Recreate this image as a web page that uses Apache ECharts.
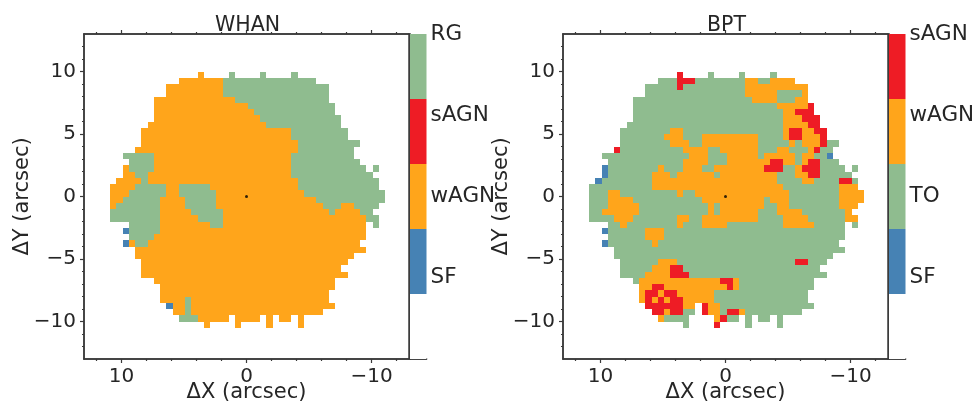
<!DOCTYPE html>
<html><head><meta charset="utf-8">
<script src="https://cdn.jsdelivr.net/npm/echarts@6/dist/echarts.min.js"></script>
<style>html,body{margin:0;padding:0;background:#fff}#c{width:974px;height:406px}</style>
</head><body><div id="c"></div>
<script>
// Spaxel maps: one string per row, top row = -20. Each token = class + column or column range.
var firstRow = -20;
var whanRows = [
"O-8 G-3 G2 G7",
"O-11:-5 G-4:10",
"O-13:-5 G-4:12",
"O-13:-5 G-4:12",
"O-15:-3 G-2:12",
"O-15:-1 G0:13",
"O-15:0 G1:13",
"O-15:1 G2:14",
"O-16:2 G3:14",
"O-17:6 G7:15",
"O-17:6 G7:15",
"O-17:7 G8:17",
"O-18:7 G8:16",
"G-20:-16 O-15:6 G7:16",
"G-19:-16 O-15:6 G7:17",
"O-20 G-19:-16 O-15:6 G7:18 G20",
"O-20:-19 G-18:-17 O-16:6 G7:19",
"O-21:-18 G-17 O-16:7 G8:20",
"O-22:-19 G-18:-14 O-13:-12 G-11:-7 O-6:7 G8:20",
"O-22:-20 G-19:-14 O-13:-12 G-11:-6 O-5:8 G9:21",
"O-22:-21 G-20:-15 O-14:-11 G-10:-6 O-5:10 G11:21",
"O-22 G-21:-15 O-14:-11 G-10:-6 O-5:11 G12:14 O15:16 G17:20",
"G-22:-15 O-14:-10 G-9:-5 O-4:12 G13 O14:17 G18:19",
"G-22:-15 O-14:-9 G-8:-5 O-4:18 G19:20",
"G-19:-15 O-14:-7 G-6:-5 O-4:18 G20",
"B-20 G-19:-15 O-14:18",
"G-19:-16 O-15:18",
"B-20 O-19 G-18:-17 O-16:17",
"O-18:18",
"O-18:16",
"O-17:15",
"O-17:14",
"O-17:15",
"O-15:13",
"O-14:13",
"O-14:12",
"O-14:-11 G-10 O-9:12",
"B-13 O-12:-11 G-10 O-9:13",
"O-12:-11 G-10 O-9:11",
"G-11:-9 O-8:-4 O-2:1 O3 O5:6 O8",
"O-7 O-2 O3 O8"
];
// BPT map: same footprint read as green (TO), with these departures ('.' = empty)
var bptRows = [
"R-8",
"R-8:-6 O3:4 O7:10",
"R-8 O3:12",
"O3:7 O12",
"O4:7 O11:12",
"O8:12 R13",
"O9:10 R11:13",
"O9:11 R12:14",
"O9:12 R13:14",
"O-9:-8 O9 R10:11 O12:13 R14:15",
"O-10:-8 O-4:4 O9 R10:11 O12:14 R15",
"O-9:-7 O-4:4 O10 O12:14 R15",
"R-18 O-7:-4 O-1:4 O8:9 O13 R14",
"O-6:-4 O0:4 O6:10 O12:13 B16:17",
"O-7:-4 O0:6 R7:8 O9:10 O12 R13:14",
"B-20 O-11 O-7:-5 O-2:5 R6:8 O11 R12:14",
"B-20 O-12:-10 O-8:-3 O-1:7 O11:12 R13:14",
"B-21 O-12:7 O12:13 R18:19",
"O-12:8 O18:20",
"O-19:-18 O-8 O-5:9 O18:21",
"O-19:-16 O-4:5 O7:9 O18:21",
"O-19:-15 O-3 O-1:5 O8:9 O18:20",
"O-20:-15 O-3 O-1:4 O8:11 O19",
"O-18:-16 O-8:-7 O-4:4 O9:12 O19:20",
"B-20 O-17 O-8 O-4:-1 O9:13",
"B-20 O-13:-11",
"O-13:-11",
"B-20 O-12",
"",
"",
"O-11:-9 R11:12",
"O-12:-10 R-9:-8",
"O-13:-10 R-9:-7",
"O-14:-2 R-1:0 O1",
"O-14:-13 R-12:-11 O-10:-1 R0 O1",
"O-14 R-13:-12 O-11 R-10:-9 O-8:-3",
"O-14 R-13 O-12 R-11 O-10 R-9:-8 O-7:-3",
"R-13:-8 O-7:-6 .-5 R-4 O-3:-2",
"R-12:-11 O-10 R-9:-8 .-5 R-4 O-3:-2 R0:1 O2",
"O-11 .-6:-4 O-2 R-1",
"R-2"
];
var classColors = {G:'#8fbc8f', O:'#ffa51b', R:'#ee1c25', B:'#4682b4', W:'#ffffff'};
var whanBands = ['W','B','O','R','G'];
var bptBands  = ['W','B','G','O','R'];
var whanLabels = ['SF','wAGN','sAGN','RG'];
var bptLabels  = ['SF','TO','wAGN','sAGN'];
var barLabelValues = [1.25,2.5,3.75,5];
var barMinorValues = [0.3125,0.625,0.9375,1.5625,1.875,2.1875,2.8125,3.125,3.4375,4.0625,4.375,4.6875];
var xMajor = [10,0,-10];
var xMinor = [12,8,6,4,2,-2,-4,-6,-8,-12];
var yMajor = [10,5,0,-5,-10];
var yMinor = [12,11,9,8,7,6,4,3,2,1,-1,-2,-3,-4,-6,-7,-8,-9,-11,-12];
var titles = ['WHAN','BPT'];
var centre = [[0,0]];

function parseRows(rows){
  var m = {};
  rows.forEach(function(s,i){
    s.split(' ').forEach(function(t){
      if(!t) return;
      var k=t[0], p=t.slice(1).split(':'), a=+p[0], b=p.length>1?+p[1]:a;
      for(var c=a;c<=b;c++) m[c+','+(i+firstRow)]=k;
    });
  });
  return m;
}
var whanMap = parseRows(whanRows), bptOver = parseRows(bptRows);
var whanData=[], bptData=[];
Object.keys(whanMap).forEach(function(key){
  var p=key.split(',');
  whanData.push([+p[0],+p[1],whanMap[key]]);
  var k=bptOver[key]||'G';
  if(k!=='.') bptData.push([+p[0],+p[1],k]);
});
function cellItem(params,api){
  var c=api.value(0), r=api.value(1);
  var p0=api.coord([-(c*0.5+0.09),-r*0.5]);
  var p1=api.coord([-((c+1)*0.5+0.09),-(r+1)*0.5]);
  var x=Math.round(p0[0]),y=Math.round(p0[1]),x2=Math.round(p1[0]),y2=Math.round(p1[1]);
  return {type:'rect',shape:{x:x,y:Math.min(y,y2),width:x2-x,height:Math.abs(y2-y)},style:{fill:api.visual('color')}};
}
var DARK='#3a3a3a', TXT='#262626', FF='"DejaVu Sans"';
var opt={animation:false,backgroundColor:'#fff',grid:[],xAxis:[],yAxis:[],series:[],
  title:[0,1].map(function(i){return {text:titles[i],left:[242.5,721.5][i],top:10,textAlign:'center',
    textStyle:{fontFamily:FF,fontWeight:'normal',fontSize:20.5,color:TXT}};})};
function baseAxis(grid,pos,vals,len,labels,inverse,name){
  return {gridIndex:grid,type:'value',position:pos,min:-13,max:13,inverse:inverse,
    axisLine:{show:true,onZero:false,lineStyle:{color:DARK,width:1.5}},
    splitLine:{show:false},minorTick:{show:false},
    axisTick:{show:true,inside:false,length:len,customValues:vals,lineStyle:{color:DARK,width:1.2}},
    axisLabel:labels?{show:true,customValues:vals,fontFamily:FF,fontSize:20,color:TXT,margin:8,
      formatter:function(v){return v<0?'\u2212'+(-v):''+v;}}:{show:false},
    name:name||'',nameLocation:'middle',nameGap:pos==='left'?51:23,nameMoveOverlap:false,
    nameTextStyle:{fontFamily:FF,fontSize:21,color:TXT}};
}
function panel(i,data,left,barLeft,bands,labels){
  var g=opt.grid.length, xs=opt.xAxis.length, ys=opt.yAxis.length;
  var rect={left:left,top:34,width:325,height:325,outerBoundsMode:'none'};
  opt.grid.push(rect,rect,{left:barLeft,top:34,width:16.5,height:325,outerBoundsMode:'none'});
  opt.xAxis.push(
    baseAxis(g,'bottom',xMajor,4,true,true,'\u0394X (arcsec)'),
    baseAxis(g,'top',xMajor,4,false,true),
    baseAxis(g+1,'bottom',xMinor,2,false,true),
    baseAxis(g+1,'top',xMinor,2,false,true),
    {gridIndex:g+2,type:'value',min:0,max:1,position:'bottom',axisLine:{show:true,lineStyle:{color:DARK,width:1.5}},axisTick:{show:false},axisLabel:{show:false},splitLine:{show:false}},
    {gridIndex:g+2,type:'value',min:0,max:1,position:'top',axisLine:{show:true,lineStyle:{color:DARK,width:1.5}},axisTick:{show:false},axisLabel:{show:false},splitLine:{show:false}});
  opt.yAxis.push(
    baseAxis(g,'left',yMajor,4,true,false,'\u0394Y (arcsec)'),
    baseAxis(g,'right',[],0,false,false),
    baseAxis(g+1,'left',yMinor,2,false,false),
    {gridIndex:g+2,type:'value',min:0,max:5,position:'right',
      axisLine:{show:true,lineStyle:{color:DARK,width:1.5}},splitLine:{show:false},
      axisTick:{show:true,length:2,customValues:barLabelValues.concat(barMinorValues),lineStyle:{color:DARK,width:1.2}},
      axisLabel:{show:true,customValues:barLabelValues,fontFamily:FF,fontSize:21.5,color:TXT,margin:4,
        formatter:function(v){return labels[barLabelValues.indexOf(v)];}}},
    {gridIndex:g+2,type:'value',min:0,max:5,position:'left',
      axisLine:{show:true,lineStyle:{color:DARK,width:1.5}},axisTick:{show:false},axisLabel:{show:false},splitLine:{show:false}});
  opt.series.push({type:'custom',xAxisIndex:xs,yAxisIndex:ys,silent:true,encode:{x:0,y:1},
    data:data.map(function(d){return {value:[d[0],d[1]],itemStyle:{color:classColors[d[2]]}};}),
    renderItem:cellItem});
  opt.series.push({type:'scatter',xAxisIndex:xs,yAxisIndex:ys,silent:true,symbol:'circle',symbolSize:3,z:5,
    itemStyle:{color:'#000'},data:centre});
  opt.series.push({type:'custom',xAxisIndex:xs+4,yAxisIndex:ys+3,silent:true,
    data:bands.map(function(b,j){return {value:[j],itemStyle:{color:classColors[b]}};}),
    renderItem:function(p,api){
      var j=api.value(0),a=api.coord([0,j]),b=api.coord([1,j+1]);
      return {type:'rect',shape:{x:a[0],y:b[1],width:b[0]-a[0],height:a[1]-b[1]},style:{fill:api.visual('color')}};
    }});
}
panel(0,whanData,84,410,whanBands,whanLabels);
panel(1,bptData,563,889,bptBands,bptLabels);
echarts.init(document.getElementById('c'),null,{renderer:'canvas'}).setOption(opt);
</script></body></html>
